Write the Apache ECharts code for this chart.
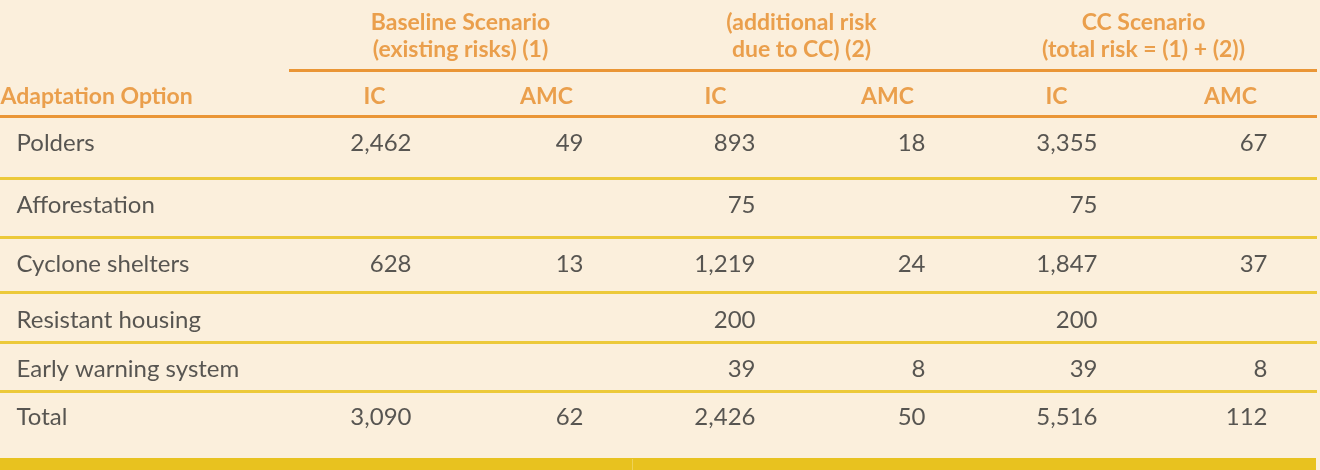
<!DOCTYPE html>
<html>
<head>
<meta charset="utf-8">
<script src="https://cdn.jsdelivr.net/npm/echarts@6/dist/echarts.min.js"></script>
<style>
html, body { margin: 0; padding: 0; background: #fbefdc; }
#main { width: 1320px; height: 470px; }
</style>
</head>
<body>
<div id="main"></div>
<script>
// table content
var rows = ["Polders", "Afforestation", "Cyclone shelters", "Resistant housing", "Early warning system", "Total"];
var groups = ["Baseline Scenario\n(existing risks) (1)", "(additional risk\ndue to CC) (2)", "CC Scenario\n(total risk = (1) + (2))"];
var columns = ["IC", "AMC", "IC", "AMC", "IC", "AMC"];
var firstHeader = "Adaptation Option";
var baseIC = [2462, null, 628, null, null, 3090];
var baseAMC = [49, null, 13, null, null, 62];
var addIC = [893, 75, 1219, 200, 39, 2426];
var addAMC = [18, null, 24, null, 8, 50];
var ccIC = [3355, 75, 1847, 200, 39, 5516];
var ccAMC = [67, null, 37, null, 8, 112];

// layout (pixel units of the hidden axes)
var colRight = [412, 584, 756, 926, 1098, 1268];
var headCenter = [375, 547, 716, 888, 1057, 1231];
var rowY = [144, 206, 265, 321, 370, 418];
var sepY = [178, 237, 292, 342, 391];
var labelX = 17;

var ORANGE = "#e68b28";
var RULE = "#ea9636";
var YELLOW = "#ecc93a";
var TEXT = "#2e2e2e";

var chart = echarts.init(document.getElementById("main"), null, { renderer: "canvas" });

function textSeries(data, align, style) {
  return {
    type: "scatter",
    symbolSize: 1,
    silent: true,
    itemStyle: { color: "transparent" },
    data: data,
    label: Object.assign({
      show: true,
      position: [0, 0],
      align: align,
      verticalAlign: "middle",
      formatter: function (p) { return p.value[2]; }
    }, style)
  };
}

var bodyFont = { fontFamily: "Lato", fontSize: 24, color: TEXT };
var headFont = { fontFamily: "Lato", fontSize: 23, fontWeight: "bold", color: ORANGE };
var groupFont = { fontFamily: "Lato", fontSize: 23, fontWeight: "bold", color: ORANGE, lineHeight: 27 };

var valueCols = [baseIC, baseAMC, addIC, addAMC, ccIC, ccAMC];
var series = [];

// row labels
series.push(textSeries(rows.map(function (r, i) { return [labelX, rowY[i], r]; }), "left", bodyFont));

// numbers, right aligned per column
valueCols.forEach(function (col, c) {
  var d = [];
  col.forEach(function (v, i) {
    if (v !== null) d.push([colRight[c], rowY[i], v.toLocaleString("en-US")]);
  });
  series.push(textSeries(d, "right", bodyFont));
});

// column headers
series.push(textSeries(columns.map(function (h, c) { return [headCenter[c], 97, h]; }), "center", headFont));
series.push(textSeries([[1, 97, firstHeader]], "left", headFont));

// group headers
series.push(textSeries(groups.map(function (g, k) {
  return [(headCenter[2 * k] + headCenter[2 * k + 1]) / 2, 37, g];
}), "center", groupFont));

// rules and bands
series.push({
  type: "line",
  data: [],
  silent: true,
  markLine: {
    symbol: "none",
    silent: true,
    label: { show: false },
    data: [
      [{ coord: [289, 70], lineStyle: { color: RULE, width: 3, type: "solid" } }, { coord: [1317, 70] }],
      [{ coord: [0, 116], lineStyle: { color: RULE, width: 3, type: "solid" } }, { coord: [1317, 116] }],
      [{ coord: [632, 459], lineStyle: { color: "#eed257", width: 1, type: "solid" } }, { coord: [632, 470] }]
    ].concat(sepY.map(function (y) {
      return [{ coord: [0, y], lineStyle: { color: YELLOW, width: 3, type: "solid" } }, { coord: [1317, y] }];
    }))
  },
  markArea: {
    silent: true,
    itemStyle: { color: "#e8c21f" },
    data: [
      [{ coord: [0, 458] }, { coord: [1316, 470] }]
    ]
  }
});

chart.setOption({
  animation: false,
  backgroundColor: "#fbefdc",
  grid: { left: 0, right: 0, top: 0, bottom: 0 },
  xAxis: { type: "value", min: 0, max: 1320, show: false },
  yAxis: { type: "value", min: 0, max: 470, inverse: true, show: false },
  series: series
});
</script>
</body>
</html>
